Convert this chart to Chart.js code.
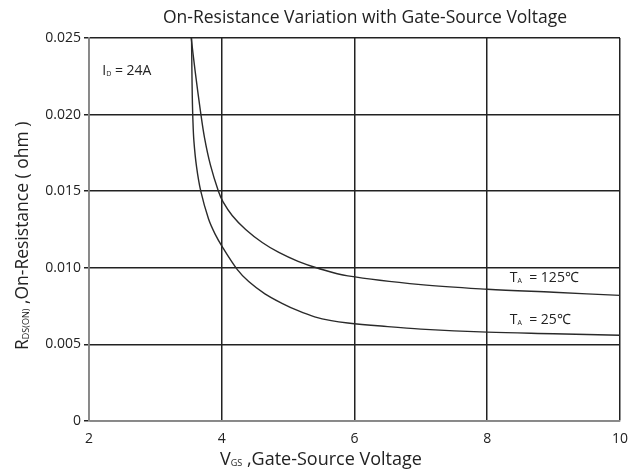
<!DOCTYPE html>
<html>
<head>
<meta charset="utf-8">
<script src="https://cdn.jsdelivr.net/npm/chart.js@4"></script>
<style>
  html, body { margin: 0; padding: 0; background: #fff; }
  #wrap { width: 638px; height: 475px; }
</style>
</head>
<body>
<div id="wrap"><canvas id="rdsChart" width="638" height="475"></canvas></div>
<script>
// Data
var vgsHot = [3.54, 3.60, 3.68, 3.74, 3.83, 3.95, 4.02, 4.16, 4.36, 4.61, 4.86, 5.15, 5.45, 5.9, 7.0, 8.0, 9.0, 10.0];
var rdsHot = [0.0250, 0.0228, 0.0202, 0.0185, 0.0167, 0.0150, 0.0143, 0.0134, 0.0125, 0.01165, 0.0110, 0.01042, 0.00997, 0.00947, 0.0089, 0.0086, 0.0084, 0.0082];
var vgsRoom = [3.545, 3.550, 3.556, 3.565, 3.58, 3.62, 3.684, 3.80, 3.90, 4.018, 4.232, 4.406, 4.65, 4.9, 5.15, 5.4, 5.65, 5.9, 6.4, 7.0, 8.0, 9.0, 10.0];
var rdsRoom = [0.0250, 0.0230, 0.0212, 0.0197, 0.0183, 0.0166, 0.0150, 0.0132, 0.0122, 0.0113, 0.0099, 0.0091, 0.0083, 0.0077, 0.0072, 0.0068, 0.00655, 0.0064, 0.0062, 0.0060, 0.0058, 0.0057, 0.0056];
var xTicks = [2, 4, 6, 8, 10];
var yTicks = [0, 0.005, 0.010, 0.015, 0.020, 0.025];

var FONT = "'Open Sans', sans-serif";

function toPoints(xs, ys) {
    var pts = [];
    for (var i = 0; i < xs.length; i++) pts.push({ x: xs[i], y: ys[i] });
    return pts;
}

// draw "main" + small subscript + rest
function subText(ctx, x, y, main, sub, rest, size) {
    ctx.font = size + "px " + FONT;
    ctx.fillText(main, x, y);
    x += ctx.measureText(main).width;
    ctx.font = Math.round(size * 0.5) + "px " + FONT;
    ctx.fillText(sub, x, y + 1);
    x += ctx.measureText(sub).width;
    ctx.font = size + "px " + FONT;
    ctx.fillText(rest, x, y);
}

// Texts: title, axis titles, labels
var textPlugin = {
    id: 'texts',
    afterDraw: function(chart) {
        var ctx = chart.ctx;
        var xs = chart.scales.x, ys = chart.scales.y;
        ctx.save();
        ctx.fillStyle = '#222';
        ctx.textBaseline = 'alphabetic';
        ctx.textAlign = 'center';
        ctx.font = "17.5px " + FONT;
        ctx.fillText('On-Resistance Variation with Gate-Source Voltage', 365, 23);

        ctx.textAlign = 'left';
        subText(ctx, 220, 465, 'V', 'GS', ' ,Gate-Source Voltage', 18);

        ctx.save();
        ctx.translate(28, 350);
        ctx.rotate(-Math.PI / 2);
        subText(ctx, 0, 0, 'R', 'DS(ON)', ' ,On-Resistance ( ohm )', 17.5);
        ctx.restore();

        subText(ctx, xs.getPixelForValue(2.2), ys.getPixelForValue(0.0226), 'I', 'D', ' = 24A', 14);
        subText(ctx, xs.getPixelForValue(8.34), ys.getPixelForValue(0.0091), 'T', 'A', '  = 125\u2103', 14);
        subText(ctx, xs.getPixelForValue(8.34), ys.getPixelForValue(0.00635), 'T', 'A', '  = 25\u2103', 14);
        ctx.restore();
    }
};

const ctx = document.getElementById('rdsChart').getContext('2d');
const rdsChart = new Chart(ctx, {
    type: 'scatter',
    data: {
        datasets: [{
            label: 'TA = 125C',
            data: toPoints(vgsHot, rdsHot),
            showLine: true,
            borderColor: '#2a2a2a',
            borderWidth: 1.4,
            pointRadius: 0,
            tension: 0.35
        }, {
            label: 'TA = 25C',
            data: toPoints(vgsRoom, rdsRoom),
            showLine: true,
            borderColor: '#2a2a2a',
            borderWidth: 1.4,
            pointRadius: 0,
            tension: 0.35
        }]
    },
    options: {
        responsive: false,
        animation: false,
        layout: { padding: { top: 38, right: 14, left: 0, bottom: 0 } },
        plugins: { legend: { display: false }, title: { display: false }, tooltip: { enabled: false } },
        scales: {
            x: {
                type: 'linear',
                min: 2, max: 10,
                afterBuildTicks: function(s) { s.ticks = xTicks.map(function(v) { return { value: v }; }); },
                afterFit: function(s) { s.height = 54; },
                grid: { color: '#222', lineWidth: 1.5, drawTicks: false },
                border: { color: '#888', width: 1.5 },
                ticks: { color: '#222', font: { family: FONT, size: 14 }, padding: 10, maxRotation: 0 }
            },
            y: {
                min: 0, max: 0.025,
                afterBuildTicks: function(s) { s.ticks = yTicks.map(function(v) { return { value: v }; }); },
                afterFit: function(s) { s.width = 89; },
                grid: { color: '#222', lineWidth: 1.5, tickLength: 5 },
                border: { color: '#888', width: 1.5 },
                ticks: {
                    color: '#222', font: { family: FONT, size: 14 }, padding: 3,
                    callback: function(v) { return v === 0 ? '0' : v.toFixed(3); }
                }
            }
        }
    },
    plugins: [textPlugin]
});
</script>
</body>
</html>
